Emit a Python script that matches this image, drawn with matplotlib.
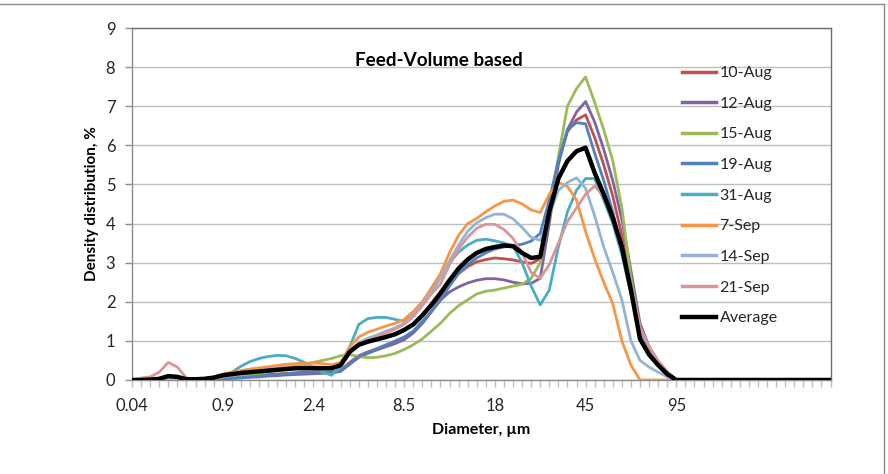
import matplotlib
matplotlib.use("Agg")
import matplotlib.pyplot as plt
from matplotlib.lines import Line2D

plt.rcParams['font.family'] = ['Lato', 'DejaVu Sans']

# ---- data -------------------------------------------------------------
tick_labels = ["0.04", "0.9", "2.4", "8.5", "18", "45", "95"]
tick_every = 10
n_cat = 78
tail = [0.0] * 17  # categories 61..77

s10aug = [0, 0, 0, 0, 0.02, 0.02, 0.01, 0.01, 0.02, 0.03,
          0.05, 0.06, 0.08, 0.10, 0.12, 0.14, 0.15, 0.17, 0.18, 0.20,
          0.20, 0.20, 0.20, 0.25, 0.45, 0.62, 0.72, 0.80, 0.88, 0.97,
          1.07, 1.22, 1.45, 1.75, 2.10, 2.45, 2.72, 2.90, 3.02, 3.08,
          3.12, 3.10, 3.07, 3.02, 2.98, 3.10, 4.40, 5.60, 6.35, 6.65,
          6.78, 6.20, 5.50, 4.70, 3.70, 2.50, 1.30, 0.80, 0.45, 0.20,
          0.0] + tail
s12aug = [0, 0, 0, 0, 0.01, 0.01, 0.01, 0.01, 0.01, 0.02,
          0.03, 0.04, 0.05, 0.07, 0.08, 0.10, 0.11, 0.13, 0.14, 0.15,
          0.16, 0.17, 0.18, 0.22, 0.40, 0.58, 0.68, 0.77, 0.85, 0.93,
          1.03, 1.20, 1.45, 1.75, 2.04, 2.25, 2.38, 2.48, 2.55, 2.59,
          2.59, 2.56, 2.50, 2.46, 2.47, 2.60, 4.00, 5.50, 6.40, 6.85,
          7.12, 6.60, 5.90, 5.10, 4.10, 2.80, 1.45, 0.85, 0.48, 0.20,
          0.0] + tail
s15aug = [0, 0, 0, 0, 0.01, 0.01, 0.01, 0.01, 0.02, 0.03,
          0.05, 0.07, 0.09, 0.12, 0.15, 0.20, 0.25, 0.30, 0.35, 0.40,
          0.45, 0.50, 0.55, 0.62, 0.65, 0.60, 0.57, 0.58, 0.62, 0.68,
          0.78, 0.90, 1.05, 1.25, 1.45, 1.70, 1.90, 2.05, 2.20, 2.27,
          2.30, 2.35, 2.40, 2.45, 2.60, 3.00, 4.30, 5.70, 7.00, 7.45,
          7.75, 7.10, 6.40, 5.60, 4.40, 2.60, 1.30, 0.80, 0.45, 0.20,
          0.0] + tail
s19aug = [0, 0, 0, 0, 0.01, 0.01, 0.01, 0.01, 0.02, 0.03,
          0.04, 0.05, 0.06, 0.08, 0.10, 0.12, 0.14, 0.16, 0.18, 0.19,
          0.20, 0.20, 0.20, 0.25, 0.42, 0.60, 0.70, 0.80, 0.90, 1.00,
          1.10, 1.25, 1.50, 1.75, 2.04, 2.40, 2.72, 2.95, 3.12, 3.25,
          3.35, 3.40, 3.44, 3.47, 3.55, 3.75, 4.60, 5.60, 6.40, 6.58,
          6.55, 5.80, 5.10, 4.30, 3.30, 2.30, 1.25, 0.78, 0.44, 0.20,
          0.0] + tail
s31aug = [0, 0, 0, 0, 0.0, -0.02, 0.0, 0.03, 0.04, 0.05,
          0.08, 0.20, 0.35, 0.47, 0.55, 0.60, 0.63, 0.62, 0.55, 0.45,
          0.33, 0.20, 0.12, 0.35, 0.85, 1.42, 1.57, 1.60, 1.60, 1.55,
          1.50, 1.65, 1.95, 2.30, 2.65, 3.00, 3.27, 3.45, 3.57, 3.60,
          3.56, 3.50, 3.43, 3.00, 2.40, 1.92, 2.30, 3.40, 4.30, 4.85,
          5.15, 5.15, 4.60, 4.00, 3.20, 2.20, 1.30, 0.80, 0.45, 0.20,
          0.0] + tail
s7sep = [0, 0, 0.01, 0.02, 0.06, 0.05, 0.02, 0.03, 0.04, 0.08,
         0.15, 0.20, 0.24, 0.28, 0.31, 0.34, 0.37, 0.40, 0.42, 0.43,
         0.43, 0.42, 0.39, 0.45, 0.85, 1.10, 1.22, 1.30, 1.38, 1.45,
         1.55, 1.75, 2.00, 2.35, 2.72, 3.25, 3.70, 4.00, 4.13, 4.30,
         4.45, 4.57, 4.60, 4.50, 4.35, 4.28, 4.75, 5.05, 4.95, 4.60,
         3.80, 3.10, 2.50, 1.95, 1.00, 0.38, 0.0, 0.0, 0.0, 0.0,
         0.0] + tail
s14sep = [0, 0, 0, 0, 0.02, 0.02, 0.01, 0.02, 0.03, 0.05,
          0.08, 0.12, 0.15, 0.18, 0.20, 0.22, 0.25, 0.27, 0.30, 0.30,
          0.30, 0.30, 0.30, 0.40, 0.75, 0.95, 1.07, 1.15, 1.25, 1.33,
          1.45, 1.65, 1.95, 2.25, 2.60, 3.05, 3.45, 3.80, 4.02, 4.15,
          4.24, 4.24, 4.12, 3.90, 3.65, 3.57, 4.20, 4.85, 5.05, 5.17,
          4.90, 4.20, 3.40, 2.75, 2.05, 1.00, 0.50, 0.33, 0.20, 0.08,
          0.0] + tail
s21sep = [0, 0.05, 0.08, 0.20, 0.45, 0.33, 0.05, 0.02, 0.02, 0.04,
          0.08, 0.12, 0.16, 0.20, 0.24, 0.28, 0.31, 0.33, 0.35, 0.35,
          0.34, 0.33, 0.32, 0.38, 0.70, 0.92, 1.02, 1.10, 1.20, 1.30,
          1.42, 1.62, 1.90, 2.20, 2.45, 2.95, 3.35, 3.65, 3.88, 3.98,
          3.98, 3.85, 3.62, 3.25, 2.75, 2.60, 2.95, 3.50, 4.05, 4.40,
          4.75, 4.96, 4.70, 4.20, 3.40, 2.40, 1.35, 0.85, 0.48, 0.22,
          0.0] + tail
average = [0, 0, 0.01, 0.03, 0.10, 0.08, 0.02, 0.02, 0.03, 0.06,
           0.12, 0.15, 0.18, 0.20, 0.22, 0.24, 0.26, 0.28, 0.30, 0.30,
           0.30, 0.30, 0.30, 0.38, 0.72, 0.90, 0.98, 1.04, 1.10, 1.17,
           1.28, 1.42, 1.65, 1.92, 2.22, 2.55, 2.85, 3.08, 3.25, 3.35,
           3.40, 3.44, 3.42, 3.25, 3.12, 3.15, 4.30, 5.15, 5.60, 5.85,
           5.94, 5.30, 4.75, 4.15, 3.40, 2.30, 1.05, 0.65, 0.38, 0.15,
           0.0] + tail

series_names = ["10-Aug", "12-Aug", "15-Aug", "19-Aug", "31-Aug",
                "7-Sep", "14-Sep", "21-Sep", "Average"]
series_data = [s10aug, s12aug, s15aug, s19aug, s31aug,
               s7sep, s14sep, s21sep, average]
series_colors = ["#C0504D", "#8064A2", "#9BBB59", "#4F81BD", "#4BACC6",
                 "#F79646", "#95B3D7", "#D99694", "#000000"]

# ---- figure -----------------------------------------------------------
W, H = 888, 474
fig = plt.figure(figsize=(W / 100, H / 100), dpi=100)
ax = fig.add_axes([132 / W, 1 - 380 / H, (830.5 - 132) / W, (380 - 28) / H])

x = list(range(n_cat))
for name, vals, col in zip(series_names, series_data, series_colors):
    lw = 3.2 if name == "Average" else 2.0
    ax.plot(x, vals, color=col, lw=lw, label=name,
            solid_joinstyle='round', zorder=4 if name == "Average" else 3)

ax.set_xlim(0, n_cat - 1)
ax.set_ylim(0, 9)
ax.set_yticks(range(0, 10))
ax.set_xticks(range(0, n_cat), minor=True)
ax.set_xticks(range(0, len(tick_labels) * tick_every, tick_every))
ax.set_xticklabels(tick_labels)

ax.grid(axis='y', color='#BFBFBF', lw=1.0, zorder=0)
ax.set_axisbelow(True)
for side in ['left', 'bottom']:
    ax.spines[side].set_color('#8C8C8C')
    ax.spines[side].set_linewidth(1.0)
for side in ['top', 'right']:
    ax.spines[side].set_color('#6E6E6E')
    ax.spines[side].set_linewidth(1.0)

ax.tick_params(axis='y', which='major', length=5, width=1, color='#8C8C8C',
               labelsize=12, pad=7, labelcolor='#262626')
ax.tick_params(axis='x', which='major', length=5, width=1, color='#BFBFBF',
               labelsize=12, pad=8, labelcolor='#262626')
ax.tick_params(axis='x', which='minor', length=5, width=1, color='#BFBFBF')

fig.text(439 / W, 1 - 60 / H, "Feed-Volume based", ha='center', va='center',
         fontsize=13.6, fontweight='bold', color='#000000')
fig.text(91.5 / W, 1 - 204 / H, "Density distribution, %", ha='center', va='center',
         rotation=90, fontsize=11, fontweight='bold', color='#000000')
fig.text(481 / W, 1 - 430 / H, "Diameter, µm", ha='center', va='center',
         fontsize=11.5, fontweight='bold', color='#000000')

handles = [Line2D([], [], color=c, lw=(3.2 if n == "Average" else 2.5))
           for n, c in zip(series_names, series_colors)]
leg = ax.legend(handles, series_names, loc='upper left',
                bbox_to_anchor=(682 / W, 1 - 66 / H),
                bbox_transform=fig.transFigure, frameon=False,
                fontsize=11.5, handlelength=2.1, handletextpad=0.25,
                labelspacing=1.03, borderaxespad=0, borderpad=0)
for t in leg.get_texts():
    t.set_color('#262626')

# outer chart border (top and right edges)
fig.add_artist(Line2D([0, 884 / W], [1 - 4 / H, 1 - 4 / H],
                      transform=fig.transFigure, color='#8C8C8C', lw=1.0))
fig.add_artist(Line2D([884 / W, 884 / W], [0, 1 - 4 / H],
                      transform=fig.transFigure, color='#8C8C8C', lw=1.0))

fig.savefig("out.png", dpi=100)
